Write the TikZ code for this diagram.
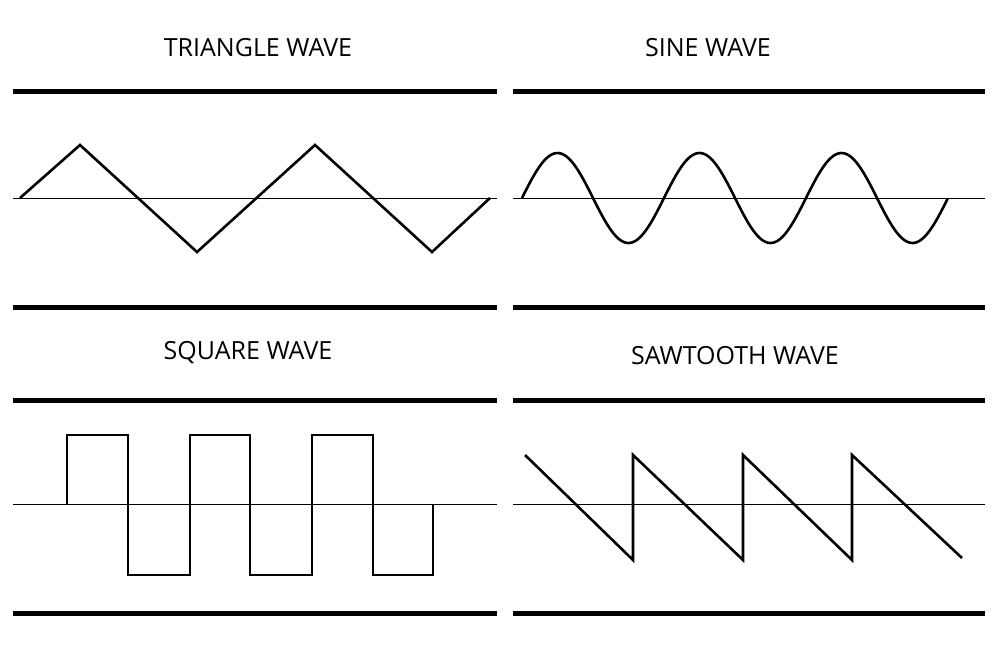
\documentclass[tikz,border=0pt]{standalone}
\usepackage{fontspec}
\setmainfont{Open Sans}
\begin{document}
\begin{tikzpicture}[x=1pt,y=-1pt,
  bar/.style={line width=5pt},
  axis/.style={line width=0.8pt},
  wave/.style={line width=2.6pt,line join=miter},
  ttl/.style={font=\fontsize{25}{28}\selectfont}]
\useasboundingbox[fill=white] (0,0) rectangle (1000,650);
% titles
\node[ttl] (t1) at (258,48) {TRIANGLE WAVE};
\node[ttl] (t2) at (708,48) {SINE WAVE};
\node[ttl] (t3) at (248,353) {SQUARE WAVE};
\node[ttl] (t4) at (735,356) {SAWTOOTH WAVE};
% bars
\foreach \y in {92,307}{
  \draw[bar] (13,\y) -- (497,\y);
  \draw[bar] (513,\y) -- (985,\y);}
\foreach \y in {400,613}{
  \draw[bar] (13,\y) -- (497,\y);
  \draw[bar] (513,\y) -- (985,\y);}
% axes
\draw[axis] (13,198) -- (497,198);
\draw[axis] (513,198) -- (985,198);
\draw[axis] (13,504) -- (497,504);
\draw[axis] (513,504) -- (985,504);
% triangle
\draw[wave] (20,198) -- (80,145) -- (197,252) -- (315,145) -- (432,252) -- (490,198);
% sine
\draw[wave,domain=0:3,samples=200,smooth,variable=\t] plot ({522+142*\t},{198-45*sin(\t*360)});
% square
\draw[wave] (67,504) -- (67,435) -- (128,435) -- (128,575) -- (190,575) -- (190,435) -- (250,435) -- (250,575) -- (312,575) -- (312,435) -- (373,435) -- (373,575) -- (433,575) -- (433,504);
% sawtooth
\draw[wave] (525,455) -- (633,560) -- (633,455) -- (743,560) -- (743,455) -- (852,560) -- (852,455) -- (962,558);
\end{tikzpicture}
\end{document}
